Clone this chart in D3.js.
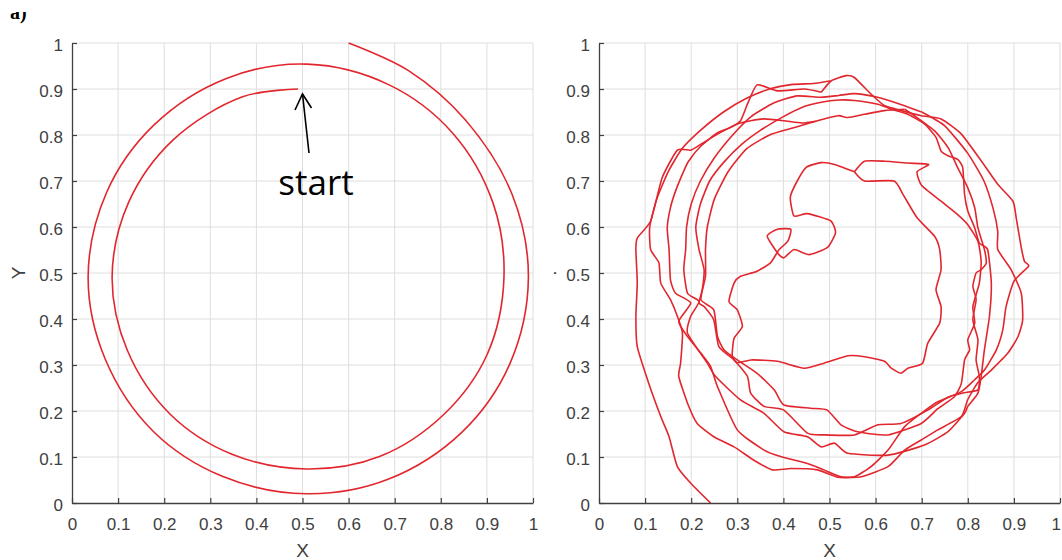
<!DOCTYPE html>
<html>
<head>
<meta charset="utf-8">
<script src="https://cdn.jsdelivr.net/npm/d3@7"></script>
<style>
  body { margin: 0; background: #fff; }
  svg { display: block; }
</style>
</head>
<body>
<svg id="fig" width="1062" height="560"></svg>
<script>
// Axis ticks shared by both panels
const tickValues = [0, 0.1, 0.2, 0.3, 0.4, 0.5, 0.6, 0.7, 0.8, 0.9, 1];
const tickLabels = ["0", "0.1", "0.2", "0.3", "0.4", "0.5", "0.6", "0.7", "0.8", "0.9", "1"];

// Left panel: smooth two-turn spiral trajectory (x, y)
const spiralTrack = [
  [0.49, 0.90], [0.37, 0.883], [0.22, 0.79], [0.123, 0.654], [0.087, 0.49],
  [0.12, 0.332], [0.213, 0.193], [0.347, 0.106], [0.51, 0.074], [0.667, 0.101],
  [0.807, 0.193], [0.901, 0.324], [0.937, 0.49], [0.913, 0.653], [0.825, 0.805],
  [0.688, 0.909], [0.51, 0.954], [0.335, 0.923], [0.178, 0.822], [0.075, 0.675],
  [0.035, 0.49], [0.072, 0.313], [0.176, 0.156], [0.326, 0.058], [0.51, 0.02],
  [0.687, 0.052], [0.846, 0.154], [0.95, 0.303], [0.99, 0.49], [0.955, 0.67],
  [0.853, 0.833], [0.73, 0.94], [0.6, 1.0]
];

// Right panel: hand-guided wandering trajectory, lap by lap
const lapCore = [
  [0.554, 0.72], [0.511, 0.736], [0.482, 0.74], [0.45, 0.73], [0.43, 0.70], [0.415, 0.665],
  [0.423, 0.624], [0.452, 0.629], [0.503, 0.613], [0.513, 0.587], [0.495, 0.555], [0.456, 0.54],
  [0.423, 0.551], [0.401, 0.533], [0.387, 0.544], [0.365, 0.58], [0.387, 0.595], [0.416, 0.595],
  [0.41, 0.57], [0.39, 0.55], [0.372, 0.522], [0.343, 0.504], [0.307, 0.493], [0.293, 0.478],
  [0.282, 0.438], [0.30, 0.42], [0.311, 0.384], [0.293, 0.358], [0.289, 0.32], [0.30, 0.305],
  [0.33, 0.311], [0.387, 0.308], [0.445, 0.293], [0.488, 0.304], [0.54, 0.32], [0.576, 0.318],
  [0.619, 0.308], [0.634, 0.293], [0.655, 0.282], [0.67, 0.293], [0.702, 0.304], [0.713, 0.347],
  [0.739, 0.391], [0.742, 0.427], [0.731, 0.464], [0.742, 0.507], [0.739, 0.551], [0.728, 0.58],
  [0.69, 0.62], [0.66, 0.67], [0.64, 0.70], [0.576, 0.70], [0.554, 0.72]
];
const lap2 = [
  [0.554, 0.72], [0.576, 0.743], [0.62, 0.743], [0.67, 0.739], [0.715, 0.736], [0.69, 0.72],
  [0.70, 0.69], [0.742, 0.656], [0.778, 0.627], [0.80, 0.605], [0.822, 0.569], [0.829, 0.525],
  [0.825, 0.478], [0.811, 0.427], [0.815, 0.391], [0.80, 0.355], [0.804, 0.333], [0.793, 0.311],
  [0.786, 0.26], [0.771, 0.231], [0.735, 0.205], [0.699, 0.173], [0.627, 0.148], [0.561, 0.155],
  [0.525, 0.17], [0.495, 0.202], [0.459, 0.206], [0.401, 0.213], [0.38, 0.246], [0.343, 0.282],
  [0.30, 0.311], [0.271, 0.333], [0.257, 0.362], [0.249, 0.42], [0.221, 0.442], [0.231, 0.493],
  [0.231, 0.551], [0.235, 0.60], [0.25, 0.66], [0.28, 0.72], [0.32, 0.77], [0.37, 0.80],
  [0.42, 0.815], [0.47, 0.83], [0.518, 0.842], [0.54, 0.838], [0.576, 0.845], [0.619, 0.853],
  [0.663, 0.856]
];
const lap3 = [
  [0.663, 0.856], [0.684, 0.842], [0.728, 0.809], [0.757, 0.773], [0.778, 0.729], [0.80, 0.685],
  [0.815, 0.642], [0.822, 0.598], [0.836, 0.551], [0.84, 0.522], [0.829, 0.507], [0.818, 0.5],
  [0.811, 0.471], [0.818, 0.442], [0.811, 0.398], [0.822, 0.355], [0.818, 0.311], [0.825, 0.275],
  [0.822, 0.246], [0.789, 0.239], [0.757, 0.23], [0.713, 0.202], [0.655, 0.173], [0.605, 0.17],
  [0.554, 0.148], [0.488, 0.148], [0.452, 0.152], [0.401, 0.202], [0.358, 0.21], [0.329, 0.239],
  [0.322, 0.275], [0.293, 0.311], [0.26, 0.34], [0.249, 0.398], [0.228, 0.427], [0.217, 0.435],
  [0.224, 0.464], [0.228, 0.507], [0.217, 0.551], [0.21, 0.60], [0.22, 0.65], [0.24, 0.70],
  [0.27, 0.74], [0.31, 0.78], [0.35, 0.81], [0.40, 0.84], [0.44, 0.86], [0.482, 0.871],
  [0.52, 0.876], [0.554, 0.875], [0.605, 0.867], [0.634, 0.856]
];
const lap4 = [
  [0.634, 0.856], [0.67, 0.845], [0.706, 0.824], [0.731, 0.795], [0.742, 0.765], [0.757, 0.755],
  [0.778, 0.747], [0.789, 0.729], [0.793, 0.671], [0.80, 0.635], [0.815, 0.598], [0.825, 0.565],
  [0.843, 0.551], [0.851, 0.478], [0.847, 0.406], [0.836, 0.333], [0.829, 0.275], [0.822, 0.239],
  [0.80, 0.21], [0.793, 0.195], [0.757, 0.155], [0.706, 0.126], [0.627, 0.104], [0.54, 0.108],
  [0.511, 0.13], [0.482, 0.122], [0.452, 0.144], [0.401, 0.155], [0.358, 0.195], [0.307, 0.224],
  [0.253, 0.275], [0.235, 0.304], [0.192, 0.369], [0.199, 0.406], [0.217, 0.438], [0.192, 0.456],
  [0.184, 0.507], [0.188, 0.551], [0.19, 0.60], [0.20, 0.65], [0.22, 0.70], [0.25, 0.75],
  [0.29, 0.80], [0.33, 0.84], [0.38, 0.87], [0.43, 0.885], [0.482, 0.882], [0.52, 0.886],
  [0.554, 0.89], [0.60, 0.883], [0.65, 0.868], [0.70, 0.85]
];
const lap5 = [
  [0.70, 0.85], [0.75, 0.82], [0.80, 0.76], [0.835, 0.70], [0.855, 0.64], [0.865, 0.59],
  [0.865, 0.551], [0.894, 0.507], [0.916, 0.456], [0.919, 0.398], [0.909, 0.362], [0.887, 0.326],
  [0.851, 0.289], [0.822, 0.262], [0.80, 0.225], [0.786, 0.188], [0.735, 0.159], [0.699, 0.137],
  [0.663, 0.115], [0.627, 0.079], [0.569, 0.057], [0.525, 0.057], [0.488, 0.072], [0.452, 0.086],
  [0.394, 0.101], [0.358, 0.115], [0.30, 0.159], [0.257, 0.253], [0.242, 0.297], [0.221, 0.326],
  [0.192, 0.362], [0.173, 0.395], [0.199, 0.435], [0.166, 0.456], [0.155, 0.485], [0.152, 0.551],
  [0.148, 0.598], [0.155, 0.642], [0.166, 0.678], [0.184, 0.722], [0.195, 0.744], [0.221, 0.776],
  [0.257, 0.805], [0.285, 0.816], [0.307, 0.831], [0.322, 0.867], [0.343, 0.909], [0.387, 0.896],
  [0.445, 0.90], [0.482, 0.893]
];
const lap6 = [
  [0.482, 0.893], [0.504, 0.918], [0.536, 0.929], [0.554, 0.925], [0.59, 0.889], [0.619, 0.864],
  [0.656, 0.853], [0.699, 0.842], [0.742, 0.835], [0.786, 0.802], [0.829, 0.744], [0.865, 0.693],
  [0.898, 0.656], [0.905, 0.62], [0.916, 0.555], [0.923, 0.525], [0.932, 0.515], [0.90, 0.482],
  [0.883, 0.427], [0.876, 0.377], [0.862, 0.333], [0.836, 0.289], [0.815, 0.268], [0.786, 0.242],
  [0.735, 0.22], [0.699, 0.195], [0.663, 0.166], [0.627, 0.115], [0.59, 0.079], [0.554, 0.057],
  [0.518, 0.056], [0.474, 0.072], [0.416, 0.075], [0.376, 0.072], [0.336, 0.093], [0.293, 0.122],
  [0.249, 0.144], [0.213, 0.173], [0.192, 0.217], [0.173, 0.275], [0.177, 0.304], [0.181, 0.369],
  [0.17, 0.406], [0.155, 0.442], [0.134, 0.478], [0.13, 0.522], [0.112, 0.551], [0.11, 0.60],
  [0.125, 0.66], [0.15, 0.72], [0.18, 0.77], [0.22, 0.81], [0.27, 0.85], [0.32, 0.88],
  [0.37, 0.90], [0.42, 0.91], [0.465, 0.912], [0.504, 0.918]
];
const tailLeg = [
  [0.47, 0.83], [0.44, 0.826], [0.401, 0.831], [0.358, 0.835], [0.329, 0.831], [0.30, 0.824],
  [0.257, 0.802], [0.221, 0.78], [0.199, 0.767], [0.17, 0.767], [0.137, 0.707], [0.112, 0.613],
  [0.083, 0.576], [0.08, 0.55], [0.083, 0.478], [0.08, 0.406], [0.083, 0.34], [0.108, 0.26],
  [0.134, 0.188], [0.152, 0.144], [0.17, 0.079], [0.199, 0.043], [0.242, 0.0]
];
const wanderTracks = [lapCore, lap2, lap3, lap4, lap5, lap6, tailLeg];

const svg = d3.select("#fig");
const FONT = "'Liberation Sans', Arial, sans-serif";
const AXIS_COLOR = "#404040";
const LINE_COLOR = "#e2262e";
const FIG_WIDTH = 1062;

const panels = [
  { left: 72, right: 533, top: 43, bottom: 503, yTitle: "Y", yTitleX: 25, curve: d3.curveCatmullRom.alpha(0.5) },
  { left: 599, right: 1060, top: 43, bottom: 503, yTitle: ".", yTitleX: 556, curve: d3.curveCardinal.tension(0.45) }
];

function drawPanel(p, tracks) {
  const x = d3.scaleLinear().domain([0, 1]).range([p.left, p.right]);
  const y = d3.scaleLinear().domain([0, 1]).range([p.bottom, p.top]);
  const g = svg.append("g");

  // grid
  const grid = g.append("g").attr("stroke", "#dedede").attr("stroke-width", 1);
  grid.selectAll("line.v").data(tickValues.slice(1)).join("line")
    .attr("x1", d => x(d)).attr("x2", d => x(d))
    .attr("y1", y(0)).attr("y2", y(1));
  grid.selectAll("line.h").data(tickValues.slice(1)).join("line")
    .attr("y1", d => y(d)).attr("y2", d => y(d))
    .attr("x1", x(0)).attr("x2", x(1));

  // trajectories
  const line = d3.line().x(d => x(d[0])).y(d => y(d[1])).curve(p.curve);
  g.append("g").selectAll("path").data(tracks).join("path")
    .attr("d", line)
    .attr("fill", "none")
    .attr("stroke", LINE_COLOR)
    .attr("stroke-width", 1.6)
    .attr("stroke-linejoin", "round");

  // axes
  const xa = g.append("g").attr("transform", `translate(0,${p.bottom})`)
    .call(d3.axisBottom(x).tickValues(tickValues).tickFormat((d, i) => tickLabels[i])
      .tickSize(-5).tickSizeOuter(0).tickPadding(15));
  const ya = g.append("g").attr("transform", `translate(${p.left},0)`)
    .call(d3.axisLeft(y).tickValues(tickValues).tickFormat((d, i) => tickLabels[i])
      .tickSize(-5).tickSizeOuter(0).tickPadding(9));
  [xa, ya].forEach(a => {
    a.select(".domain").attr("stroke", AXIS_COLOR).attr("stroke-width", 1.3);
    a.selectAll(".tick line").attr("stroke", AXIS_COLOR).attr("stroke-width", 1.2);
    a.selectAll(".tick text").attr("fill", AXIS_COLOR).style("font-family", FONT).style("font-size", "17px");
  });
  ya.selectAll(".tick text").attr("dy", "0.45em");
  // keep a tick label that would run past the figure edge inside it
  xa.selectAll(".tick text").each(function () {
    const b = this.getBBox();
    const t = d3.select(this.parentNode).attr("transform");
    const tx = +/translate\(([-\d.]+)/.exec(t)[1];
    const over = tx + b.x + b.width - (FIG_WIDTH - 1);
    if (over > 0) d3.select(this).attr("dx", -over);
  });

  // axis titles
  g.append("text").attr("x", (p.left + p.right) / 2).attr("y", 557)
    .attr("text-anchor", "middle").attr("fill", AXIS_COLOR)
    .style("font-family", FONT).style("font-size", "19px").text("X");
  g.append("text")
    .attr("transform", `translate(${p.yTitleX},${(p.top + p.bottom) / 2}) rotate(-90)`)
    .attr("text-anchor", "middle").attr("fill", AXIS_COLOR)
    .style("font-family", FONT).style("font-size", "19px").text(p.yTitle);
  return { x, y };
}

drawPanel(panels[0], [spiralTrack]);
drawPanel(panels[1], wanderTracks);

// "start" annotation with an open arrowhead
const ann = svg.append("g").attr("stroke", "#000").attr("stroke-width", 1.6).attr("fill", "none");
ann.append("line").attr("x1", 309).attr("y1", 153).attr("x2", 302.5).attr("y2", 94);
ann.append("polyline").attr("points", "295,110 302.5,94 311.5,108").attr("stroke-linejoin", "miter");
svg.append("text").attr("x", 316).attr("y", 195).attr("text-anchor", "middle")
  .attr("fill", "#000").style("font-family", "'Open Sans', sans-serif").style("font-size", "35px")
  .text("start");

// panel tag, clipped at the top edge of the figure
svg.append("text").attr("x", 10).attr("y", 19)
  .attr("fill", "#000").style("font-family", "'Liberation Serif', 'Times New Roman', serif")
  .style("font-weight", "bold").style("font-size", "20px").text("a)");
svg.append("rect").attr("x", 0).attr("y", 0).attr("width", 60).attr("height", 12).attr("fill", "#fff");
</script>
</body>
</html>
